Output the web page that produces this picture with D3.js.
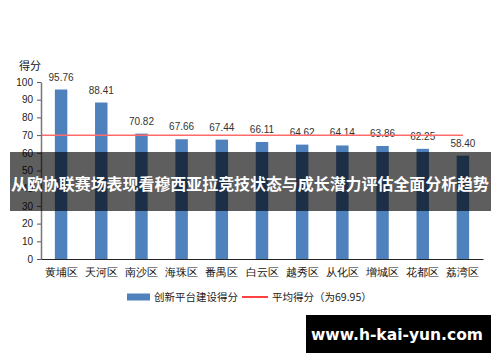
<!DOCTYPE html>
<html>
<head>
<meta charset="utf-8">
<script src="https://cdn.jsdelivr.net/npm/d3@7"></script>
<style>
  body { margin: 0; background: #fff; }
  svg { display: block; font-family: "Noto Sans CJK SC", "Liberation Sans", sans-serif; }
</style>
</head>
<body>
<div id="chart"></div>
<script>
// data
var districts = ["黄埔区", "天河区", "南沙区", "海珠区", "番禺区", "白云区", "越秀区", "从化区", "增城区", "花都区", "荔湾区"];
var scores = [95.76, 88.41, 70.82, 67.66, 67.44, 66.11, 64.62, 64.14, 63.86, 62.25, 58.40];
var average = 69.95;
var yTicks = [0, 10, 20, 30, 40, 50, 60, 70, 80, 90, 100];
var seriesName = "创新平台建设得分";
var avgName = "平均得分（为69.95）";
var title = "从欧协联赛场表现看穆西亚拉竞技状态与成长潜力评估全面分析趋势";
var watermark = "www.h-kai-yun.com";

var W = 500, H = 362;
var margin = { left: 41, right: 17, top: 82, bottom: 103 };
var width = W - margin.left - margin.right;
var height = H - margin.top - margin.bottom;

var svg = d3.select("#chart")
    .append("svg")
    .attr("width", W)
    .attr("height", H);

var g = svg.append("g")
    .attr("transform", "translate(" + margin.left + "," + margin.top + ")");

// scales
var x = d3.scaleBand()
    .domain(districts)
    .range([0, width])
    .paddingInner(0.69)
    .paddingOuter(0.345);

var y = d3.scaleLinear()
    .domain([0, 100])
    .range([height, 0]);

// bars
g.selectAll("rect.bar")
    .data(scores)
    .enter()
    .append("rect")
    .attr("class", "bar")
    .attr("x", function (d, i) { return x(districts[i]); })
    .attr("y", function (d) { return y(d); })
    .attr("width", x.bandwidth())
    .attr("height", function (d) { return height - y(d); })
    .attr("fill", "#4f81bd");

// value labels
g.selectAll("text.val")
    .data(scores)
    .enter()
    .append("text")
    .attr("class", "val")
    .attr("x", function (d, i) { return x(districts[i]) + x.bandwidth() / 2; })
    .attr("y", function (d) { return y(d) - 9; })
    .attr("text-anchor", "middle")
    .attr("font-size", "10px")
    .attr("font-family", "Liberation Sans, sans-serif")
    .attr("fill", "#333")
    .text(function (d) { return d.toFixed(2); });

// average line
var lastCenter = x(districts[districts.length - 1]) + x.bandwidth() / 2;
g.append("line")
    .attr("x1", 0)
    .attr("x2", lastCenter)
    .attr("y1", y(average))
    .attr("y2", y(average))
    .attr("stroke", "#ff6b6b")
    .attr("stroke-width", 1.6);

// y axis
var yAxis = g.append("g")
    .call(d3.axisLeft(y).tickValues(yTicks).tickSize(4).tickSizeOuter(0));
yAxis.select(".domain").attr("stroke", "#777").attr("stroke-width", 1.5);
yAxis.selectAll(".tick line").attr("stroke", "#555");
yAxis.selectAll(".tick text")
    .attr("font-size", "10px")
    .attr("font-family", "Liberation Sans, sans-serif")
    .attr("fill", "#222")
    .attr("x", -8);

// x axis
var xAxis = g.append("g")
    .attr("transform", "translate(0," + height + ")")
    .call(d3.axisBottom(x).tickSize(0).tickSizeOuter(0));
xAxis.select(".domain").attr("stroke", "#222").attr("stroke-width", 1.2);
xAxis.selectAll(".tick text")
    .attr("font-size", "11px")
    .attr("fill", "#111")
    .attr("dy", "1.25em");

// y title
svg.append("text")
    .attr("x", 30)
    .attr("y", 70)
    .attr("text-anchor", "middle")
    .attr("font-size", "11px")
    .attr("fill", "#111")
    .text("得分");

// legend
var leg = svg.append("g").attr("transform", "translate(0,297)");
leg.append("rect")
    .attr("x", 127).attr("y", -3.5)
    .attr("width", 23).attr("height", 7)
    .attr("fill", "#4f81bd");
leg.append("text")
    .attr("x", 154).attr("y", 4)
    .attr("font-size", "10.5px")
    .attr("fill", "#222")
    .text(seriesName);
leg.append("line")
    .attr("x1", 242).attr("x2", 268)
    .attr("y1", 0).attr("y2", 0)
    .attr("stroke", "#ff0000")
    .attr("stroke-width", 1.5);
leg.append("text")
    .attr("x", 272).attr("y", 4)
    .attr("font-size", "10.5px")
    .attr("fill", "#222")
    .text(avgName);

// banner overlay
svg.append("rect")
    .attr("x", 10).attr("y", 152)
    .attr("width", 481).attr("height", 59)
    .attr("fill", "#000")
    .attr("fill-opacity", 0.63);
svg.append("text")
    .attr("x", 250).attr("y", 190)
    .attr("text-anchor", "middle")
    .attr("font-size", "16px")
    .attr("font-weight", "bold")
    .attr("fill", "#fff")
    .attr("textLength", 478)
    .attr("lengthAdjust", "spacingAndGlyphs")
    .text(title);

// watermark
svg.append("rect")
    .attr("x", 306).attr("y", 315)
    .attr("width", 185).attr("height", 38)
    .attr("fill", "#000");
svg.append("text")
    .attr("x", 397).attr("y", 340)
    .attr("text-anchor", "middle")
    .attr("font-size", "15.5px")
    .attr("font-weight", "bold")
    .attr("font-family", "DejaVu Sans, sans-serif")
    .attr("fill", "#fff")
    .text(watermark);
</script>
</body>
</html>
